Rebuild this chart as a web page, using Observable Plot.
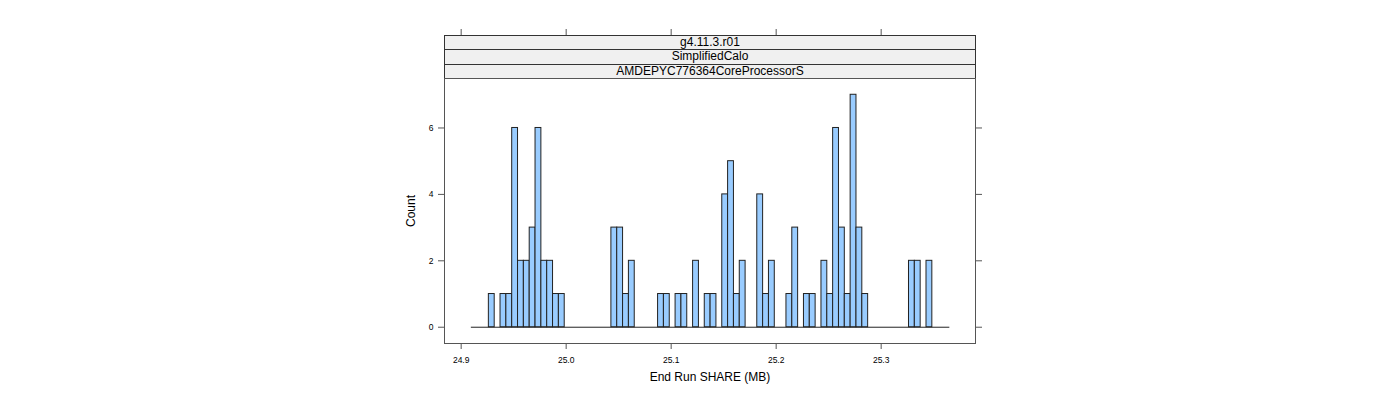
<!DOCTYPE html>
<html>
<head>
<meta charset="utf-8">
<script src="https://cdn.jsdelivr.net/npm/d3@7"></script>
<script src="https://cdn.jsdelivr.net/npm/@observablehq/plot@0.6"></script>
<style>
  html, body { margin: 0; padding: 0; background: #fff; }
  #wrap { position: relative; width: 1400px; height: 400px; font-family: "Liberation Sans", Arial, sans-serif; }
  .strip { position: absolute; left: 444px; width: 532px; background: #f0f0f0;
           border: 1px solid #333; border-bottom: none; box-sizing: border-box; font-size: 12px; line-height: 13px;
           text-align: center; color: #000; }
</style>
</head>
<body>
<div id="wrap"></div>
<script>
// Strip labels (top to bottom)
const strips = ["g4.11.3.r01", "SimplifiedCalo", "AMDEPYC776364CoreProcessorS"];
// Histogram breaks range and bin counts (82 equal-width bins)
const binLo = 24.9097;
const binHi = 25.3654;
const counts = [
  0, 0, 0, 1, 0, 1, 1, 6, 2, 2, 3, 6, 2, 2, 1, 1,
  0, 0, 0, 0, 0, 0, 0, 0, 3, 3, 1, 2, 0, 0, 0, 0,
  1, 1, 0, 1, 1, 0, 2, 0, 1, 1, 0, 4, 5, 1, 2, 0,
  0, 4, 1, 2, 0, 0, 1, 3, 0, 1, 1, 0, 2, 1, 6, 3,
  1, 7, 3, 1, 0, 0, 0, 0, 0, 0, 0, 2, 2, 0, 2, 0,
  0, 0
];
const xTicks = [24.9, 25.0, 25.1, 25.2, 25.3];
const yTicks = [0, 2, 4, 6];

const bw = (binHi - binLo) / counts.length;
const bins = counts.map((c, i) => ({x1: binLo + i * bw, x2: binLo + (i + 1) * bw, count: c}));

const wrap = document.getElementById("wrap");
const plot = Plot.plot({
  width: 1400,
  height: 400,
  marginLeft: 444,
  marginRight: 425,
  marginTop: 78,
  marginBottom: 57,
  style: {fontFamily: "Liberation Sans, Arial, sans-serif", fontSize: "8.5px", color: "#000", background: "#fff"},
  x: {domain: [24.88413, 25.38984]},
  y: {domain: [-0.49, 7.49]},
  marks: [
    Plot.ruleY([0], {x1: binLo, x2: binHi, stroke: "#222", strokeWidth: 1}),
    Plot.rectY(bins.filter(b => b.count > 0), {x1: "x1", x2: "x2", y1: 0, y2: "count", fill: "#99ccff", stroke: "#222", strokeWidth: 1}),
    Plot.frame({stroke: "#555"}),
    Plot.axisX(xTicks, {anchor: "bottom", tickSize: 6, tickPadding: 7, tickFormat: d3.format(".1f"), stroke: "#555", fill: "#000", label: null}),
    Plot.axisX(xTicks, {anchor: "top", tickSize: 6, tickFormat: () => "", stroke: "#555", label: null, dy: -44}),
    Plot.axisY(yTicks, {anchor: "left", tickSize: 6, tickPadding: 5, stroke: "#555", fill: "#000", label: null}),
    Plot.axisY(yTicks, {anchor: "right", tickSize: 6, tickFormat: () => "", stroke: "#555", label: null})
  ]
});
wrap.appendChild(plot);

const tops = [35, 49, 64];
const heights = [14, 15, 14];
strips.forEach((s, i) => {
  const d = document.createElement("div");
  d.className = "strip";
  d.style.top = tops[i] + "px";
  d.style.height = heights[i] + "px";
  d.textContent = s;
  wrap.appendChild(d);
});

const xl = document.createElement("div");
xl.textContent = "End Run SHARE (MB)";
xl.style.cssText = "position:absolute;left:0;width:1420px;top:370px;text-align:center;font-size:12px;";
wrap.appendChild(xl);

const yl = document.createElement("div");
yl.textContent = "Count";
yl.style.cssText = "position:absolute;left:411px;top:211px;font-size:12px;transform:translate(-50%,-50%) rotate(-90deg);white-space:nowrap;";
wrap.appendChild(yl);
</script>
</body>
</html>
